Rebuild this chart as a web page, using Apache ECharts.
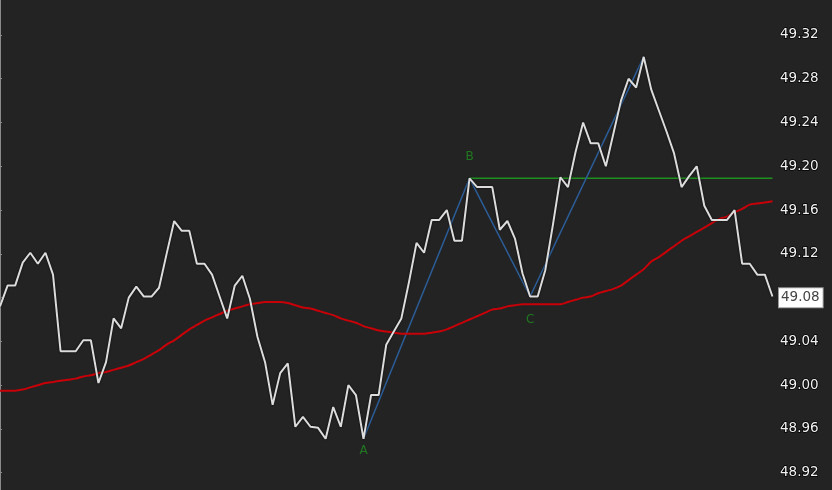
<!DOCTYPE html>
<html>
<head>
<meta charset="utf-8">
<script src="https://cdn.jsdelivr.net/npm/echarts@6/dist/echarts.min.js"></script>
<style>
html,body{margin:0;padding:0;background:#232323;}
#chart{width:832px;height:490px;}
</style>
</head>
<body>
<div id="chart"></div>
<script>
// Price (white line), one value per bar
var price = [
49.072,49.091,49.091,49.112,49.121,49.111,49.121,49.101,49.031,49.031,
49.031,49.041,49.041,49.002,49.021,49.061,49.052,49.080,49.090,49.081,
49.081,49.089,49.120,49.150,49.141,49.141,49.111,49.111,49.101,49.081,
49.061,49.091,49.100,49.079,49.044,49.021,48.982,49.011,49.020,48.962,
48.971,48.962,48.961,48.951,48.980,48.962,49.000,48.991,48.951,48.991,
48.991,49.037,49.049,49.061,49.094,49.130,49.121,49.151,49.151,49.160,
49.132,49.132,49.189,49.181,49.181,49.181,49.142,49.150,49.134,49.102,
49.081,49.081,49.105,49.146,49.190,49.181,49.213,49.240,49.221,49.221,
49.200,49.230,49.260,49.280,49.272,49.300,49.270,49.251,49.232,49.212,
49.181,49.191,49.200,49.164,49.151,49.151,49.151,49.160,49.111,49.111,
49.101,49.101,49.081
];
// Moving average (red line)
var movingAvg = [
48.995,48.995,48.995,48.996,48.998,49.000,49.002,49.003,49.004,49.005,
49.006,49.008,49.009,49.011,49.012,49.014,49.016,49.018,49.021,49.024,
49.028,49.032,49.037,49.041,49.046,49.051,49.055,49.059,49.062,49.065,
49.068,49.070,49.072,49.074,49.075,49.076,49.076,49.076,49.075,49.073,
49.071,49.070,49.068,49.066,49.064,49.061,49.059,49.057,49.054,49.052,
49.050,49.049,49.048,49.047,49.047,49.047,49.047,49.048,49.049,49.051,
49.054,49.057,49.060,49.063,49.066,49.069,49.070,49.072,49.073,49.074,
49.074,49.074,49.074,49.074,49.074,49.076,49.078,49.080,49.081,49.084,
49.086,49.088,49.091,49.096,49.101,49.106,49.113,49.117,49.122,49.127,
49.132,49.136,49.140,49.144,49.148,49.152,49.154,49.158,49.161,49.165,
49.166,49.167,49.168
];
// Pattern pivot bars (A, B, C, end)
var pivotIdx = [48, 62, 70, 85];
var pivotLabels = ['A', 'B', 'C', ''];
var lastPriceLabel = '49.08';
// Y axis ticks
var yMin = 48.88, yMax = 49.36, yStep = 0.04;

var priceData = price.map(function(v,i){return [i,v];});
var maData = movingAvg.map(function(v,i){return [i,v];});
var pivotData = pivotIdx.map(function(i){return [i, price[i]];});
var bIdx = pivotIdx[1];
var levelData = [[bIdx, price[bIdx]], [price.length-1, price[bIdx]]];
var labelPos = ['bottom','top','bottom'];
var labelDist = [6,15,17];
var labelData = pivotIdx.slice(0,3).map(function(i,k){
  return {value:[i, price[i]], label:{show:true, formatter:pivotLabels[k], position:labelPos[k], distance:labelDist[k]}};
});

var chart = echarts.init(document.getElementById('chart'), null, {renderer:'canvas'});
chart.setOption({
  animation:false,
  backgroundColor:'#232323',
  grid:{left:0, right:55, top:-8.8, bottom:-26.5, containLabel:false, outerBoundsMode:'none'},
  xAxis:{type:'value', min:0, max:102.6, show:false},
  yAxis:{
    type:'value', position:'right', min:yMin, max:yMax, interval:yStep,
    axisLine:{show:true, lineStyle:{color:'#8a8a8a', width:1}},
    axisTick:{show:true, length:2, lineStyle:{color:'#8a8a8a'}},
    splitLine:{show:false},
    axisLabel:{
      margin:3, color:'#f2f2f2', fontFamily:'DejaVu Sans', fontSize:13.5,
      textBorderColor:'#000', textBorderWidth:1.5,
      formatter:function(v){return v.toFixed(2);}
    }
  },
  series:[
    {type:'line', data:levelData, symbol:'none', lineStyle:{color:'#1f8f1f', width:1.5}, z:2},
    {type:'line', data:pivotData, symbol:'none', lineStyle:{color:'#2b5d99', width:1.5}, z:3},
    {type:'line', data:maData, symbol:'none', smooth:0.3, lineStyle:{color:'#c80008', width:2}, z:4},
    {type:'line', data:priceData, symbol:'none',
      lineStyle:{color:'#dcdcdc', width:2, shadowColor:'rgba(0,0,0,0.9)', shadowBlur:2},
      z:5,
      markLine:{
        silent:true, symbol:'none',
        lineStyle:{color:'rgba(0,0,0,0)', width:0},
        data:[{yAxis:price[price.length-1]}],
        label:{show:true, position:'end', distance:2, formatter:lastPriceLabel,
          backgroundColor:'#ffffff', color:'#444444', borderColor:'#9a9a9a', borderWidth:1,
          fontFamily:'DejaVu Sans', fontSize:13.5, padding:[3,3,2,2]}
      }
    },
    {type:'scatter', data:labelData, symbolSize:0, z:6,
      label:{color:'#1f8f1f', fontFamily:'DejaVu Sans', fontSize:12}}
  ]
});
</script>
</body>
</html>
